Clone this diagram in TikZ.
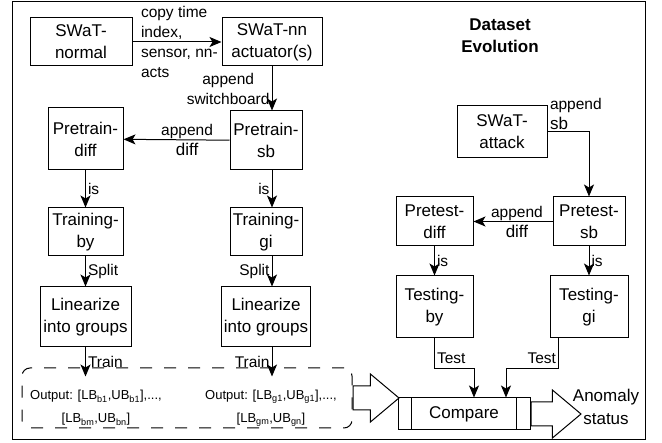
\documentclass[tikz,border=0pt]{standalone}
\usepackage{fontspec}
\setmainfont{Liberation Sans}
\usetikzlibrary{calc, positioning, arrows.meta, shapes.arrows}
\newcommand{\lblbig}{\fontsize{17}{20}\selectfont}

\begin{document}
\begin{tikzpicture}[
		x=1pt, y=-1pt,
		node distance=30pt,
		line width=1pt,
		>={Stealth[length=12pt, width=10pt, inset=3pt]},
		nodebox/.style={draw, rectangle, align=center, inner sep=1pt, font=\fontsize{17}{22}\selectfont},
		lbl/.style={inner sep=2pt, font=\fontsize{15.5}{20}\selectfont},
		outtext/.style={align=center, font=\fontsize{13}{23}\selectfont},
		dashbox/.style={draw, dash pattern=on 12pt off 12pt, rounded corners=8pt},
		bigarrow/.style={draw, single arrow, single arrow head extend=12pt, single arrow tip angle=80, minimum width=47pt, inner xsep=0pt, inner ysep=11.5pt}
	]
	\useasboundingbox (0,0) rectangle (662,443);
	\draw (12,2) rectangle (645,440);

	% training side
	\node[nodebox, minimum width=102pt, minimum height=48pt] (normal) at (81,42) {SWaT-\\normal};
	\node[nodebox, minimum width=100pt, minimum height=48pt] (nnact) at (272,42) {SWaT-nn\\actuator(s)};
	\node[nodebox, minimum width=75pt, minimum height=62pt] (prediff) at (85.5,139) {Pretrain-\\diff};
	\node[nodebox, minimum width=72pt, minimum height=59pt] (presb) at (266,140.5) {Pretrain-\\sb};
	\node[nodebox, minimum width=75pt, minimum height=48pt, below=37pt of prediff] (trainby) {Training-\\by};
	\node[nodebox, minimum width=72pt, minimum height=48pt, below=37pt of presb] (traingi) {Training-\\gi};
	\node[nodebox, minimum width=91pt, minimum height=60pt, below=of trainby] (linby) {Linearize\\into groups};
	\node[nodebox, minimum width=89pt, minimum height=60pt, below=of traingi] (lingi) {Linearize\\into groups};

	\node[dashbox, minimum width=330pt, minimum height=60pt] (outbox) at (187,398) {};
	\node[outtext] (outby) at (96,408) {Output: [LB\textsubscript{b1},UB\textsubscript{b1}],...,\\ {[}LB\textsubscript{bm},UB\textsubscript{bn}]};
	\node[outtext] (outgi) at (271,408) {Output: [LB\textsubscript{g1},UB\textsubscript{g1}],...,\\ {[}LB\textsubscript{gm},UB\textsubscript{gn}]};

	% testing side
	\node[align=center, font=\fontsize{17}{22}\selectfont\bfseries] (title) at (500,36) {Dataset\\Evolution};
	\node[nodebox, minimum width=90pt, minimum height=52pt] (attack) at (502,132) {SWaT-\\attack};
	\node[nodebox, minimum width=72pt, minimum height=49pt] (tsb) at (589,221.5) {Pretest-\\sb};
	\node[nodebox, minimum width=77pt, minimum height=49pt, left=79pt of tsb] (tdiff) {Pretest-\\diff};
	\node[nodebox, minimum width=77pt, minimum height=62pt, below=29pt of tdiff] (testby) {Testing-\\by};
	\node[nodebox, minimum width=78pt, minimum height=62pt, below=29pt of tsb] (testgi) {Testing-\\gi};

	\node[nodebox, minimum width=132pt, minimum height=32pt] (cmp) at (464,414) {Compare};
	\draw ($(cmp.north west)+(14,0)$) -- ($(cmp.south west)+(14,0)$);
	\draw ($(cmp.north east)+(-14,0)$) -- ($(cmp.south east)+(-14,0)$);

	\node[bigarrow, minimum height=46pt, anchor=tail] (inarrow) at (outbox.east) {};
	\node[bigarrow, minimum height=50pt, anchor=tail] (outarrow) at (cmp.east) {};
	\node[font=\fontsize{17}{23}\selectfont, align=center] (status) at (606,407) {Anomaly\\status};

	\coordinate (byend) at ($(linby.south |- outbox.north)+(0,9)$);
	\coordinate (giend) at ($(nnact.south |- outbox.north)+(0,9)$);
	\coordinate (byin) at ($(cmp.north)+(10,0)$);
	\coordinate (giin) at ($(cmp.north)+(42,0)$);
	\coordinate (giout) at ($(testgi.south west)+(9,0)$);

	\draw[->] (normal) -- node[lbl, right=6pt, pos=0, align=left] {copy time\\index,\\sensor, nn-\\acts} (nnact);
	\draw[->] (nnact.south) -- node[lbl, left, align=center] {append\\switchboard} (nnact.south |- presb.north);
	\draw[->] (presb) -- node[lbl, align=center, pos=0.4] {append\\\lblbig diff} (prediff);
	\draw[->] (prediff) -- node[lbl, right] {is} (trainby);
	\draw[->] (presb.south -| nnact.south) -- node[lbl, left] {is} (traingi.north -| nnact.south);
	\draw[->] (trainby) -- node[lbl, right] {Split} (linby);
	\draw[->] (traingi.south -| nnact.south) -- node[lbl, left] {Split} (lingi.north -| nnact.south);
	\draw[->] (linby.south) -- node[lbl, right] {Train} (byend);
	\draw[->] (lingi.south -| nnact.south) -- node[lbl, left] {Train} (giend);

	\draw[->] (attack) -| node[lbl, above right, pos=0, align=left] {append\\\lblbig sb} (tsb);
	\draw[->] (tsb) -- node[lbl, align=center, pos=0.45] {append\\\lblbig diff} (tdiff);
	\draw[->] (tdiff) -- node[lbl, right] {is} (testby);
	\draw[->] (tsb) -- node[lbl, right] {is} (testgi);
	\draw[->] (testby.south) -- node[lbl, right, pos=0.65] {Test} ++(0,30) -| (byin);
	\draw[->] (giout) -- node[lbl, left, pos=0.65] {Test} ++(0,30) -| (giin);
\end{tikzpicture}
\end{document}
